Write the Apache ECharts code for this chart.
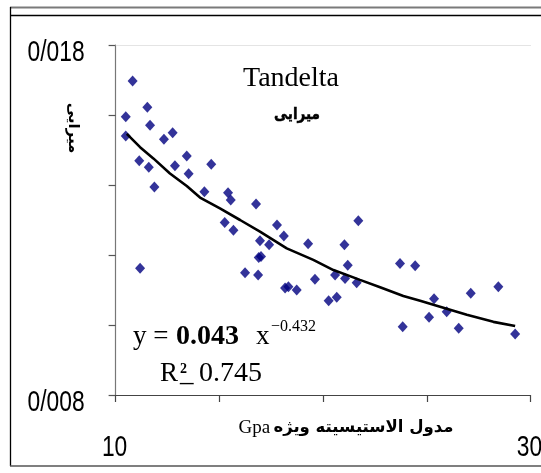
<!DOCTYPE html>
<html>
<head>
<meta charset="utf-8">
<script src="https://cdn.jsdelivr.net/npm/echarts@6/dist/echarts.min.js"></script>
<style>
html,body{margin:0;padding:0;background:#fff;}
#chart{width:541px;height:473px;}
</style>
</head>
<body>
<div id="chart"></div>
<script>
// ---- data ----
const gpaValues = [10.82, 10.49, 11.53, 11.66, 10.49, 12.33, 12.75, 11.14, 11.60, 11.87,
  12.86, 13.43, 13.52, 14.61, 14.28, 15.42, 15.55, 16.77, 15.26, 15.68,
  17.78, 18.11, 21.70, 11.18, 16.96, 17.40, 16.90, 17.01, 19.28, 21.03,
  16.24, 16.87, 21.19, 19.61, 18.17, 18.33, 18.73, 20.58, 21.06, 21.62,
  20.27, 20.66, 23.71, 24.44, 25.35, 25.96, 25.11, 23.84, 27.12, 26.54,
  28.45, 29.26];
const dampingValues = [0.01697, 0.01595, 0.01622, 0.01571, 0.01540, 0.01531, 0.01549, 0.01469, 0.01451, 0.01394,
  0.01455, 0.01483, 0.01432, 0.01459, 0.01381, 0.01378, 0.01357, 0.01346, 0.01293, 0.01271,
  0.01286, 0.01254, 0.01298, 0.01162, 0.01241, 0.01229, 0.01193, 0.01196, 0.01232, 0.01229,
  0.01149, 0.01143, 0.01171, 0.01131, 0.01106, 0.01109, 0.01100, 0.01143, 0.01133, 0.01121,
  0.01069, 0.01079, 0.01176, 0.01169, 0.01075, 0.01038, 0.01022, 0.00995, 0.01091, 0.00991,
  0.01109, 0.00974];
// trend line
const trendGpa = [10.54, 11.18, 11.82, 12.62, 13.43, 14.07, 15.03, 16.00, 16.96, 18.25,
  19.53, 20.50, 21.78, 22.75, 23.87, 24.68, 25.64, 26.93, 28.21, 29.26];
const trendDamping = [0.01546, 0.01508, 0.01476, 0.01433, 0.01397, 0.01364, 0.01333, 0.01300, 0.01267, 0.01219,
  0.01186, 0.01157, 0.01129, 0.01108, 0.01083, 0.01069, 0.01052, 0.01029, 0.01009, 0.00997];
// tick labels
const xLabelValues = [10, 30];
const xLabelTexts = ['10', '30'];
const yLabelValues = [0.018, 0.008];
const yLabelTexts = ['0/018', '0/008'];
// texts
const titleText = 'Tandelta';
const subtitleText = 'میرایی';
const yAxisTitle = 'میرایی';
const xAxisTitleLatin = 'Gpa';
const xAxisTitleFa = 'مدول الاستیسیته ویژه';

const SANS = "'Liberation Sans', Arial, sans-serif";
const SERIF = "'Liberation Serif', 'DejaVu Serif', serif";
const FA = "'DejaVu Sans', sans-serif";

const X_MIN = 10, X_MAX = 30, Y_MIN = 0.008, Y_MAX = 0.018;

const chart = echarts.init(document.getElementById('chart'), null, {renderer: 'canvas'});

const scatterData = gpaValues.map((x, i) => [x, dampingValues[i]]);
const trendData = trendGpa.map((x, i) => [x, trendDamping[i]]);

const baseGraphics = [
  // outer frame
  {type: 'line', shape: {x1: 10, y1: 7.5, x2: 541, y2: 7.5}, style: {stroke: '#7a7a7a', lineWidth: 2}},
  {type: 'line', shape: {x1: 10, y1: 15.5, x2: 541, y2: 15.5}, style: {stroke: '#000', lineWidth: 1.3}},
  {type: 'line', shape: {x1: 10.5, y1: 7, x2: 10.5, y2: 466}, style: {stroke: '#000', lineWidth: 1.3}},
  {type: 'line', shape: {x1: 10, y1: 466, x2: 541, y2: 466}, style: {stroke: '#555', lineWidth: 1.5}},
  // title
  {type: 'text', x: 291, y: 79, style: {text: titleText, font: '28px ' + SERIF, fill: '#000', align: 'center', verticalAlign: 'middle'}},
  {type: 'text', x: 297, y: 115, scaleX: 0.85,
    style: {text: subtitleText, font: 'bold 16px ' + FA, fill: '#000', stroke: '#000', lineWidth: 0.5, align: 'center', verticalAlign: 'middle'}},
  // y axis title (rotated)
  {type: 'text', x: 73, y: 128, rotation: -Math.PI / 2,
    style: {text: yAxisTitle, font: 'bold 15px ' + FA, fill: '#000', align: 'center', verticalAlign: 'middle'}},
  // x axis title
  {type: 'text', x: 346, y: 428,
    style: {
      text: '{a|' + xAxisTitleLatin + '} {b|' + xAxisTitleFa + '}',
      align: 'center', verticalAlign: 'middle',
      rich: {
        a: {fontFamily: SERIF, fontSize: 19, fill: '#000', color: '#000'},
        b: {fontFamily: FA, fontWeight: 'bold', fontSize: 16.5, fill: '#000', color: '#000'}
      }
    }},
  // equation
  {type: 'text', x: 133, y: 337, style: {text: 'y =', font: '27px ' + SERIF, fill: '#000', verticalAlign: 'middle'}},
  {type: 'text', x: 176, y: 337, style: {text: '0.043', font: 'bold 28px ' + SERIF, fill: '#000', verticalAlign: 'middle'}},
  {type: 'text', x: 256, y: 337, style: {text: 'x', font: '27px ' + SERIF, fill: '#000', verticalAlign: 'middle'}},
  {type: 'text', x: 271, y: 327, style: {text: '\u22120.432', font: '16px ' + SERIF, fill: '#000', verticalAlign: 'middle'}},
  {type: 'text', x: 160, y: 374, style: {text: 'R', font: '27px ' + SERIF, fill: '#000', verticalAlign: 'middle'}},
  {type: 'text', x: 180, y: 369, style: {text: '2', font: 'bold 14px ' + SERIF, fill: '#000', verticalAlign: 'middle'}},
  {type: 'text', x: 180, y: 374, style: {text: '_', font: '27px ' + SERIF, fill: '#000', verticalAlign: 'middle'}},
  {type: 'text', x: 199, y: 374, style: {text: '0.745', font: '28px ' + SERIF, fill: '#000', verticalAlign: 'middle'}}
];

chart.setOption({
  animation: false,
  backgroundColor: '#ffffff',
  grid: {left: 115.6, right: 10.5, top: 45, bottom: 78, containLabel: false, outerBoundsMode: 'none'},
  xAxis: [{
    type: 'value', min: X_MIN, max: X_MAX, interval: 5, position: 'bottom',
    axisLine: {show: true, onZero: false, lineStyle: {color: '#444', width: 1.2}},
    axisTick: {show: true, inside: false, length: 7, lineStyle: {color: '#444', width: 1.2}},
    splitLine: {show: false},
    axisLabel: {show: false}
  }, {
    type: 'value', min: X_MIN, max: X_MAX, position: 'top',
    axisLine: {show: true, onZero: false, lineStyle: {color: '#e4e4e4', width: 1.2}},
    axisTick: {show: false}, axisLabel: {show: false}, splitLine: {show: false}
  }],
  yAxis: {
    type: 'value', min: Y_MIN, max: Y_MAX, interval: 0.002,
    axisLine: {show: true, onZero: false, lineStyle: {color: '#777', width: 1.2}},
    axisTick: {show: true, inside: false, length: 7, lineStyle: {color: '#555', width: 1.2}},
    splitLine: {show: false},
    axisLabel: {show: false}
  },
  series: [{
    type: 'scatter',
    data: scatterData,
    symbol: 'diamond',
    symbolSize: [10, 11],
    itemStyle: {color: '#000080'},
    z: 3
  }, {
    type: 'line',
    data: trendData,
    showSymbol: false,
    symbol: 'none',
    smooth: false,
    lineStyle: {color: '#000', width: 2.6},
    z: 4
  }],
  graphic: baseGraphics
});

// condensed tick labels, placed through the axes' own scales
const labelGraphics = [];
yLabelValues.forEach((v, i) => {
  const p = chart.convertToPixel({gridIndex: 0}, [X_MIN, v]);
  labelGraphics.push({type: 'text', x: p[0] - 31, y: p[1] + 8, scaleX: 0.76,
    style: {text: yLabelTexts[i], font: '30px ' + SANS, fill: '#000', align: 'right', verticalAlign: 'middle'}});
});
xLabelValues.forEach((v, i) => {
  const p = chart.convertToPixel({gridIndex: 0}, [v, Y_MIN]);
  labelGraphics.push({type: 'text', x: p[0] - 1, y: p[1] + 53, scaleX: 0.76,
    style: {text: xLabelTexts[i], font: '30px ' + SANS, fill: '#000', align: 'center', verticalAlign: 'middle'}});
});
chart.setOption({graphic: baseGraphics.concat(labelGraphics)});
</script>
</body>
</html>
